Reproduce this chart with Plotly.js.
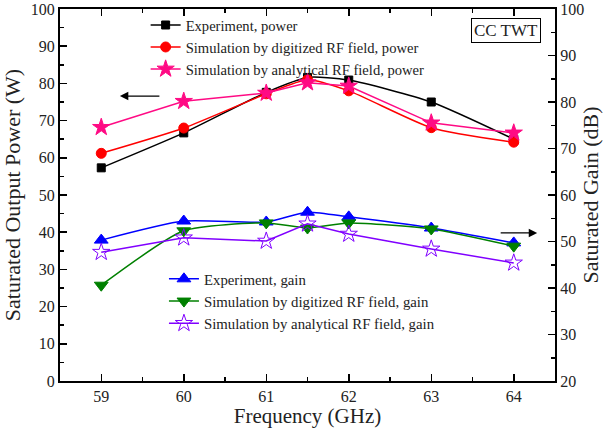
<!DOCTYPE html>
<html><head><meta charset="utf-8">
<script src="https://cdn.plot.ly/plotly-3.0.1.min.js"></script>
<style>html,body{margin:0;padding:0;background:#fff}#c{width:603px;height:428px}</style>
</head><body><div id="c"></div>
<script>
const freq = [59, 60, 61, 61.5, 62, 63, 64];
const expPower = [57.3, 66.7, 77.6, 81.6, 80.9, 75.0, 65.0];
const simDigPower = [61.2, 68.0, 77.2, 81.0, 78.0, 68.1, 64.2];
const simAnaPower = [68.2, 75.2, 77.4, 80.2, 79.3, 69.4, 66.7];
const expGain = [50.3, 54.4, 54.2, 56.3, 55.3, 52.9, 49.7];
const simDigGain = [40.6, 52.3, 54.0, 52.9, 54.0, 52.7, 49.0];
const simAnaGain = [47.7, 50.8, 50.1, 53.8, 51.6, 48.4, 45.4];
const names = ["Experiment, power", "Simulation by digitized RF field, power", "Simulation by analytical RF field, power",
  "Experiment, gain", "Simulation by digitized RF field, gain", "Simulation by analytical RF field, gain"];

const F = "Liberation Serif, serif";
function tr(y, name, color, symbol, size, yaxis, legend, shape) {
  return {x: freq, y: y, name: name, type: 'scatter', mode: 'lines+markers', yaxis: yaxis, legend: legend,
    line: {color: color, width: 1.5, shape: shape, smoothing: 0.6},
    marker: {color: color, symbol: symbol, size: size, line: {color: color, width: 1}}};
}
const data = [
  tr(expPower, names[0], '#000000', 'square', 8, 'y', 'legend', 'spline'),
  tr(simDigPower, names[1], '#ff0000', 'circle', 10, 'y', 'legend', 'spline'),
  tr(simAnaPower, names[2], '#ff0a84', 'star', 13, 'y', 'legend', 'linear'),
  tr(expGain, names[3], '#0000ff', 'triangle-up', 12, 'y2', 'legend2', 'spline'),
  tr(simDigGain, names[4], '#008000', 'triangle-down', 12, 'y2', 'legend2', 'spline'),
  tr(simAnaGain, names[5], '#8000ff', 'star-open', 13, 'y2', 'legend2', 'linear')
];
const axBase = {showline: true, linecolor: '#000', linewidth: 2, ticks: 'inside', ticklen: 7, tickwidth: 1.5,
  tickcolor: '#000', showgrid: false, zeroline: false, tickfont: {family: F, size: 16, color: '#222'}};
const layout = {
  width: 603, height: 428, margin: {l: 60, r: 48, t: 9, b: 47},
  paper_bgcolor: '#fff', plot_bgcolor: '#fff', font: {family: F, color: '#222'},
  xaxis: Object.assign({}, axBase, {range: [58.5, 64.5], dtick: 1, tick0: 59, mirror: 'ticks',
    minor: {dtick: 0.5, ticks: 'inside', ticklen: 4, tickcolor: '#000', tickwidth: 1.5},
    title: {text: 'Frequency (GHz)', font: {family: F, size: 21, color: '#222'}, standoff: 6}}),
  yaxis: Object.assign({}, axBase, {range: [0, 100], dtick: 10,
    minor: {dtick: 5, ticks: 'inside', ticklen: 4, tickcolor: '#000', tickwidth: 1.5},
    title: {text: 'Saturated Output Power (W)', font: {family: F, size: 22, color: '#222'}, standoff: 6}}),
  yaxis2: Object.assign({}, axBase, {range: [20, 100], dtick: 10, overlaying: 'y', side: 'right',
    minor: {dtick: 5, ticks: 'inside', ticklen: 4, tickcolor: '#000', tickwidth: 1.5},
    title: {text: 'Saturated Gain (dB)', font: {family: F, size: 22, color: '#222'}, standoff: 2}}),
  legend: {x: 0.173, y: 1.0, xanchor: 'left', yanchor: 'top', bgcolor: 'rgba(0,0,0,0)',
    font: {family: F, size: 14.6, color: '#222'}, tracegroupgap: 0},
  legend2: {x: 0.21, y: 0.318, xanchor: 'left', yanchor: 'top', bgcolor: 'rgba(0,0,0,0)',
    font: {family: F, size: 14.8, color: '#222'}, tracegroupgap: 0},
  annotations: [
    {xref: 'paper', yref: 'paper', x: 0.901, y: 0.941, xanchor: 'center', yanchor: 'middle', text: 'CC TWT', showarrow: false,
     font: {family: F, size: 17, color: '#222'}, bordercolor: '#000', borderwidth: 1, borderpad: 2, bgcolor: '#fff'},
    {xref: 'paper', yref: 'paper', x: 0.121, y: 0.766, ax: 41, ay: 0, text: '', showarrow: true,
     arrowhead: 2, arrowsize: 1.4, arrowwidth: 1.2, arrowcolor: '#000'},
    {xref: 'paper', yref: 'paper', x: 0.964, y: 0.398, ax: -38, ay: 0, text: '', showarrow: true,
     arrowhead: 2, arrowsize: 1.4, arrowwidth: 1.2, arrowcolor: '#000'}
  ]
};
Plotly.newPlot('c', data, layout, {displayModeBar: false, staticPlot: true});
</script></body></html>
